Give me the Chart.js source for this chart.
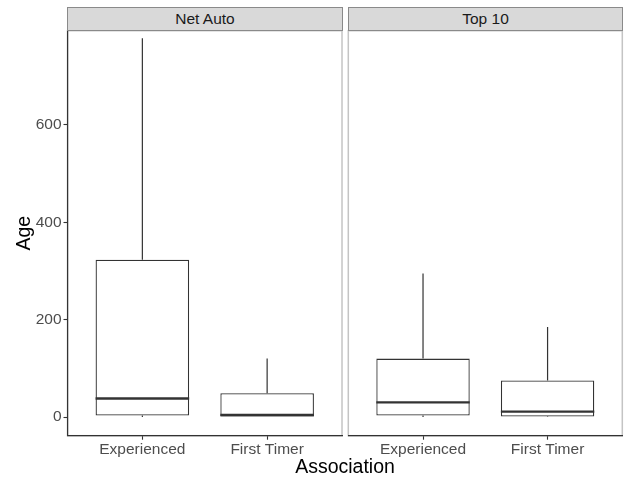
<!DOCTYPE html>
<html>
<head>
<meta charset="utf-8">
<script src="https://cdn.jsdelivr.net/npm/chart.js@4/dist/chart.umd.min.js"></script>
<style>
  body { margin: 0; background: #fff; }
  #wrap { position: relative; width: 624px; height: 478px; background: #fff; overflow: hidden; }
  canvas { position: absolute; top: 0; }
  .strip {
    position: absolute; top: 7px; height: 24px; box-sizing: border-box;
    background: #d9d9d9; border: 1px solid #8a8a8a;
    font: 15.5px "Liberation Sans", Arial, sans-serif; color: #1a1a1a;
    text-align: center; line-height: 22px;
  }
  #xtitle {
    position: absolute; left: 245px; width: 200px; top: 455px; text-align: center;
    font: 19.5px "Liberation Sans", Arial, sans-serif; color: #000;
  }
</style>
</head>
<body>
<div id="wrap">
  <canvas id="left" width="345" height="478" style="left:0"></canvas>
  <canvas id="right" width="279" height="478" style="left:345px"></canvas>
  <div class="strip" id="strip0" style="left:67px;width:276px"></div>
  <div class="strip" id="strip1" style="left:348px;width:275px"></div>
  <div id="xtitle">Association</div>
</div>
<script>
const panels = ['Net Auto', 'Top 10'];
const categories = ['Experienced', 'First Timer'];
const xPositions = [1, 2];
const yTicks = [0, 200, 400, 600];

// five-number summaries per panel, one entry per category
const netAutoLow = [0, 0];
const netAutoQ1 = [3, 0];
const netAutoMedian = [38, 4];
const netAutoQ3 = [323, 49];
const netAutoHigh = [778, 120];

const top10Low = [0, 0];
const top10Q1 = [3, 1];
const top10Median = [30, 11];
const top10Q3 = [120, 75];
const top10High = [295, 185];

const yMin = -38.4, yMax = 793.7;
const ink = '#333333';
const font = { family: '"Liberation Sans", Arial, sans-serif', size: 15.5 };

document.getElementById('strip0').textContent = panels[0];
document.getElementById('strip1').textContent = panels[1];

const boxParts = {
  id: 'boxParts',
  beforeDraw(chart) {
    const { ctx, chartArea: a } = chart;
    ctx.save();
    ctx.strokeStyle = '#c4c4c4';
    ctx.lineWidth = 1.5;
    ctx.strokeRect(a.left, a.top, a.right - a.left, a.bottom - a.top);
    ctx.restore();
  },
  afterDatasetsDraw(chart, args, opts) {
    const { ctx, scales: { y } } = chart;
    const bars = chart.getDatasetMeta(0).data;
    ctx.save();
    ctx.strokeStyle = ink;
    bars.forEach((bar, i) => {
      ctx.lineWidth = 1.2;
      ctx.beginPath();
      ctx.moveTo(bar.x, y.getPixelForValue(opts.q3[i]));
      ctx.lineTo(bar.x, y.getPixelForValue(opts.high[i]));
      ctx.moveTo(bar.x, y.getPixelForValue(opts.q1[i]));
      ctx.lineTo(bar.x, y.getPixelForValue(opts.low[i]));
      ctx.stroke();
      const my = y.getPixelForValue(opts.median[i]);
      ctx.lineWidth = 2.4;
      ctx.beginPath();
      ctx.moveTo(bar.x - bar.width / 2, my);
      ctx.lineTo(bar.x + bar.width / 2, my);
      ctx.stroke();
    });
    ctx.restore();
  }
};

function makePanel(id, stats, showY, padLeft, padRight) {
  return new Chart(document.getElementById(id), {
    type: 'bar',
    data: {
      datasets: [{
        data: xPositions.map((x, i) => ({ x, y: [stats.q1[i], stats.q3[i]] })),
        backgroundColor: '#ffffff',
        borderColor: ink,
        borderWidth: 1.3,
        borderSkipped: false,
        categoryPercentage: 1,
        barPercentage: 0.75
      }]
    },
    options: {
      responsive: false,
      animation: false,
      layout: { padding: { left: padLeft, right: padRight, top: 30.7, bottom: 0 } },
      plugins: { legend: { display: false }, tooltip: { enabled: false }, boxParts: stats },
      scales: {
        x: {
          type: 'linear',
          offset: false,
          min: 0.4,
          max: 2.6,
          afterBuildTicks: s => { s.ticks = xPositions.map(v => ({ value: v })); },
          afterFit: s => { s.height = 42.3; },
          grid: { offset: false, drawOnChartArea: false, tickLength: 4, tickColor: ink, tickWidth: 1.1 },
          border: { color: ink, width: 1.2 },
          ticks: { color: '#4d4d4d', font, padding: 1, maxRotation: 0, autoSkip: false,
                   callback: v => categories[xPositions.indexOf(v)] }
        },
        y: {
          display: showY,
          min: yMin,
          max: yMax,
          afterBuildTicks: s => { s.ticks = yTicks.map(v => ({ value: v })); },
          afterFit: s => { s.width = showY ? 67.5 : 0; },
          grid: { drawOnChartArea: false, tickLength: 4, tickColor: ink, tickWidth: 1.1 },
          border: { color: ink, width: 1.2 },
          ticks: { color: '#4d4d4d', font, padding: 2 },
          title: { display: true, text: 'Age', color: '#000',
                   font: { family: font.family, size: 19.5 }, padding: { top: 13, bottom: 0 } }
        }
      }
    },
    plugins: [boxParts]
  });
}

makePanel('left', { low: netAutoLow, q1: netAutoQ1, median: netAutoMedian, q3: netAutoQ3, high: netAutoHigh }, true, 0, 3);
makePanel('right', { low: top10Low, q1: top10Q1, median: top10Median, q3: top10Q3, high: top10High }, false, 3.3, 1.7);
</script>
</body>
</html>
